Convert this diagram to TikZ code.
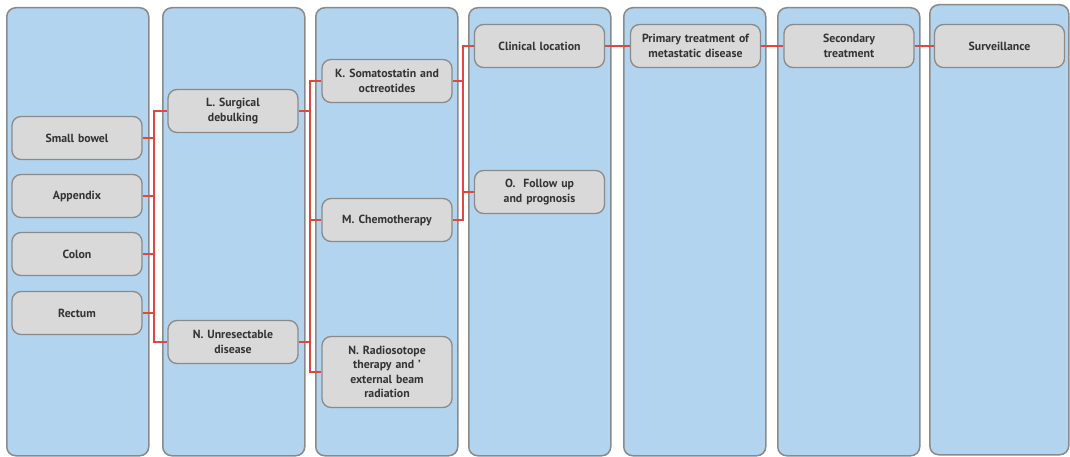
\documentclass[tikz,border=0pt]{standalone}
\usepackage{fontspec}
\setmainfont{PT Sans}
\definecolor{colfill}{HTML}{B3D4EE}
\definecolor{colline}{HTML}{8A8A8A}
\definecolor{boxfill}{HTML}{D9D9D9}
\definecolor{linkred}{HTML}{E2473B}
\definecolor{txtgray}{HTML}{333333}

\begin{document}
\begin{tikzpicture}[x=1pt,y=-1pt,
    stage/.style={draw=colline, fill=colfill, line width=1.5pt, rounded corners=9pt, anchor=north west},
    item/.style={draw=colline, fill=boxfill, line width=1.3pt, rounded corners=9pt,
        minimum width=130pt, minimum height=43pt, text width=126pt, align=center, inner sep=0pt,
        text=txtgray, font=\bfseries\fontsize{11.8}{14.5}\selectfont},
    link/.style={draw=linkred, line width=2pt}]
                        \useasboundingbox (0,0) rectangle (1070,457);

                        % columns
                        \foreach \i/\x in {1/6,2/162,3/315,4/468,5/623,6/777}{
                            \node[stage, minimum width=142pt, minimum height=448pt] (c\i) at (\x,7) {};
                        }
                        \node[stage, minimum width=139pt, minimum height=450pt] (c7) at (929,4) {};

                        % boxes
                        \foreach \n/\y/\t in {sb/138/Small bowel, app/196/Appendix, colon/254/Colon, rec/313/Rectum}{
                            \node[item] (\n) at (77,\y) {\t};
                        }
                        \node[item] (surg) at (233,111) {L. Surgical\\debulking};
                        \node[item] (unres) at (233,342) {N. Unresectable\\disease};
                        \node[item] (soma) at (387,81) {K. Somatostatin and\\octreotides};
                        \node[item] (chemo) at (387,220) {M. Chemotherapy};
                        \node[item, minimum height=71pt] (radio) at (387,372) {N. Radiosotope\\therapy and ’\\external beam\\radiation};
                        \node[item] (clin) at (539.5,46) {Clinical location};
                        \node[item] (follow) at (539.5,192) {O.~ Follow up\\and prognosis};
                        \node[item] (prim) at (695.5,46) {Primary treatment of\\metastatic disease};
                        \node[item] (sec) at (849,46) {Secondary\\treatment};
                        \node[item] (surv) at (999.5,46) {Surveillance};

                        \coordinate (t1) at (154,0);
                        \coordinate (t2) at (310,0);
                        \coordinate (t3) at (463,0);

                        % site -> surgery
                        \foreach \u in {sb,app,colon,rec}{
                            \draw[link] (\u.east) -- (\u.east -| t1);
                        }
                        \draw[link] (surg.west) -- (surg.west -| t1) -- (unres.west -| t1) -- (unres.west);

                        % surgery -> therapy
                        \foreach \u/\v in {surg/east, unres/east, chemo/west}{
                            \draw[link] (\u.\v) -- (\u.\v -| t2);
                        }
                        \draw[link] (soma.west) -- (soma.west -| t2) -- (radio.west -| t2) -- (radio.west);

                        % therapy -> follow up
                        \foreach \u/\v in {soma/east, follow/west}{
                            \draw[link] (\u.\v) -- (\u.\v -| t3);
                        }
                        \draw[link] (clin.west) -- (clin.west -| t3) -- (chemo.east -| t3) -- (chemo.east);

                        \foreach \u/\v in {clin/prim, prim/sec, sec/surv}{
                            \draw[link] (\u) -- (\v);
                        }
                    \end{tikzpicture}
\end{document}
